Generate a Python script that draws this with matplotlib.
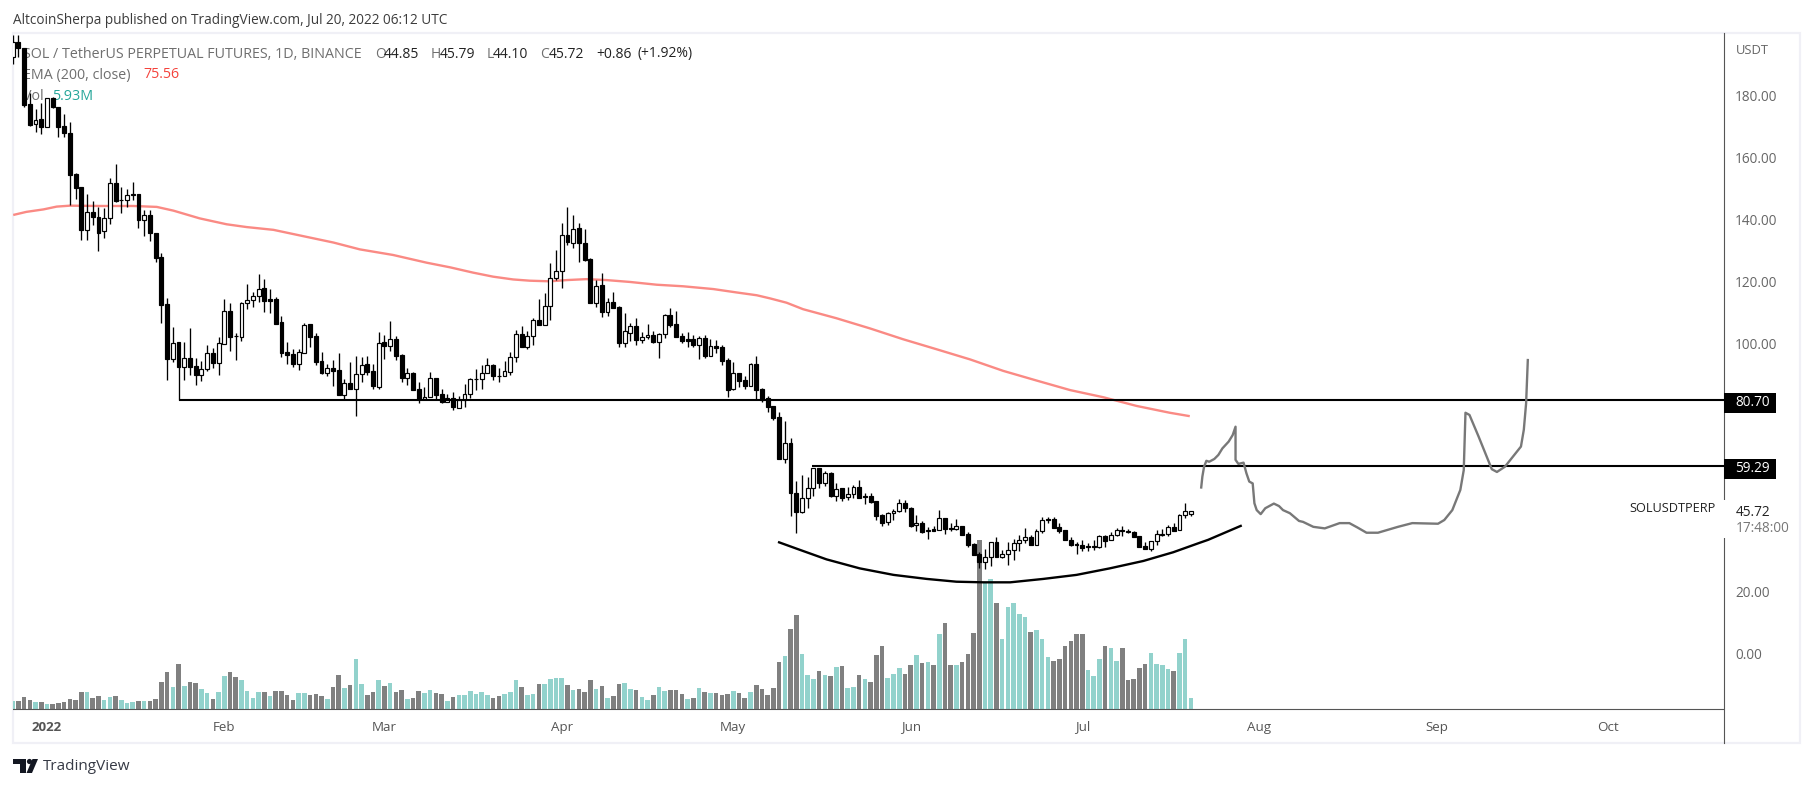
import matplotlib
matplotlib.use("Agg")
import matplotlib.pyplot as plt
from matplotlib.patches import Rectangle, Polygon, Circle
from matplotlib.transforms import Affine2D

W, H = 1813, 788
plt.rcParams['font.family'] = ['Open Sans', 'DejaVu Sans']

# daily candles, day 0 = 2022-01-01, first candle is day -6
first_day = -6
opens = [192.4, 197.2, 195.3, 177, 170.5, 172.2, 169.8, 178.9, 176, 170,
         167.6, 154.5, 150.2, 136.5, 142.2, 140.8, 136, 140.2, 151.5, 146.1,
         146, 148, 148, 139.8, 141.2, 135.4, 127.6, 112.5, 95, 100.2,
         92.4, 95.1, 92.5, 89.8, 91.7, 96.7, 93.7, 99.8, 110.2, 102.3,
         102, 112.8, 114, 115.3, 117.6, 114.1, 114.1, 106.7, 97, 96.4,
         93.2, 96.9, 106, 102.3, 94.2, 90.4, 91.9, 91.2, 83.3, 87,
         85.1, 89.9, 93.1, 90.9, 85.9, 100.2, 99.1, 101.2, 96.1, 88.8,
         90.3, 85.1, 81.8, 82.7, 88.6, 83.5, 81.1, 82.2, 79.1, 81.6,
         83.5, 88.4, 88.3, 90.2, 92.9, 89.3, 89.2, 90.8, 95.4, 102.9,
         98.8, 102.2, 107.3, 105.9, 111.8, 121.1, 123.1, 134.7, 132.4, 137,
         132.2, 127, 113, 118.6, 110.1, 113.1, 111.5, 100.1, 103.3, 105.5,
         101.1, 101.8, 102.5, 100.4, 102.8, 108.9, 106, 102.3, 101.3, 101.3,
         99.5, 101.5, 95.9, 99, 98.6, 94.4, 85.1, 90.3, 88, 86.2,
         93.2, 85.1, 82.2, 79.7, 76, 62.7, 67.6, 51.7, 45.6, 49.9,
         53.3, 59.6, 54.7, 58, 50.8, 53.1, 50.2, 51.2, 53.5, 50.6,
         50.6, 48.9, 44.5, 42.2, 45.3, 45.9, 48.3, 46.7, 41.2, 41.9,
         39.2, 39.9, 39.6, 43.6, 40.2, 39.9, 41, 38.4, 35.1, 31.9,
         29.5, 30.9, 35.7, 31.1, 31.8, 33.1, 35.4, 36.4, 37.3, 35,
         39.3, 43.2, 43.2, 40.6, 39.6, 36.4, 35.2, 34.8, 34.5, 34.6,
         34.3, 37.8, 36.3, 38, 39.6, 39.4, 39, 37.7, 34.4, 33.7,
         36, 38.2, 38.3, 40.6, 39.6, 44.4, 44.85]
closes = [197.2, 195.3, 176.8, 170.4, 172, 169.8, 178.9, 176, 169.8, 167.6,
          154.3, 150.1, 136.5, 142.2, 140.8, 135.6, 140.2, 151.5, 145.8, 146,
          147.6, 147.6, 139.7, 141.2, 135.4, 127.4, 112.3, 95, 100.1, 92.4,
          95.1, 92.4, 89.8, 91.7, 96.7, 93.7, 99.9, 110.2, 102, 102.2,
          112.8, 114, 115.3, 117.5, 113.7, 113.7, 106.1, 96.9, 96.1, 93.2,
          97, 105.7, 102, 94, 90.4, 91.8, 91.1, 83.2, 87, 85.1,
          89.9, 93, 90.8, 86.2, 100.1, 99.1, 101.2, 95.8, 88.7, 90.2,
          84.9, 81.8, 82.7, 88.6, 83.2, 81.1, 82.2, 79.3, 81.6, 83.5,
          88.3, 88.3, 90.2, 92.8, 89.2, 89.2, 90.9, 95.4, 102.8, 98.8,
          102.2, 107.3, 105.9, 111.8, 121.1, 123.1, 134.7, 132.7, 136.9, 132.2,
          126.8, 113, 118.5, 110.1, 113.1, 111.4, 100.1, 103.8, 105.5, 101,
          101.8, 102.5, 100.3, 102.8, 108.9, 105.9, 102, 100.8, 100.8, 99.5,
          101.5, 95.8, 99, 98.5, 94.2, 84.8, 90.2, 87.9, 86.2, 93.1,
          84.8, 81.6, 79.5, 75.9, 62.6, 67.6, 51.7, 45.6, 49.9, 53.3,
          59.6, 54.7, 58, 50.8, 53, 50.1, 51.2, 53.5, 50.1, 50.2,
          48.8, 44.3, 41.9, 45.3, 45.9, 48.3, 46.7, 41.1, 41.8, 39,
          39.8, 39.5, 43.5, 40.1, 39.9, 40.9, 38.2, 34.9, 31.7, 29.5,
          30.9, 35.7, 31.1, 31.8, 33.1, 35.4, 36.4, 37.3, 35, 39.3,
          42.8, 42.9, 40.4, 39.4, 36.3, 35, 34.8, 34, 34.2, 34.3,
          37.6, 36.1, 38, 39.6, 39.3, 38.9, 37.5, 34.2, 33.7, 36,
          38.3, 38.3, 40.6, 39.5, 44.4, 45.7, 45.72]
highs = [199.4, 199.4, 195.3, 180.5, 175.5, 177.3, 178.9, 179.2, 176, 173.9,
         171.3, 154.7, 150.4, 148, 145.8, 144, 143.5, 153.1, 157.8, 150.4,
         149.7, 152, 148.2, 142.9, 142.9, 135.4, 128.9, 114.4, 105.1, 100.2,
         100.2, 104.7, 95.1, 94.2, 99.4, 98.3, 101.8, 114.1, 112.8, 103.3,
         113.1, 119, 116.3, 122.2, 120.5, 117.3, 115, 108.7, 100.2, 98.1,
         98.1, 106.4, 106, 103.1, 97.1, 93.2, 94.5, 96.8, 88.3, 93.9,
         95.7, 95.4, 95.8, 93.1, 103.6, 102.6, 107.1, 102.3, 96.5, 91.9,
         90.7, 87.4, 85.8, 90.7, 88.6, 85.1, 83.6, 84.2, 82.9, 86.8,
         88.6, 91.5, 92.8, 95.1, 93.2, 91.8, 94.3, 97, 104.2, 105.5,
         103.9, 108.1, 114.2, 116.1, 125.7, 130, 138.6, 143.8, 141.2, 138.6,
         136.7, 127.5, 120.3, 122.5, 114.4, 116.5, 112, 109.6, 106.6, 108,
         103.6, 106.1, 104, 103.1, 109.4, 111.3, 110.2, 103.3, 103.7, 102.6,
         102.3, 102.5, 101.3, 101, 99.4, 95.1, 93.9, 90.3, 89.2, 93.7,
         95.8, 85.4, 82.9, 79.7, 77.9, 75, 69.3, 55.5, 57.4, 56.7,
         59.6, 59.6, 58.8, 58.5, 55, 53.1, 53.5, 54.2, 55.8, 51.7,
         51.5, 48.9, 45, 45.6, 46.4, 49.7, 49.4, 47, 44.5, 42.6,
         40.8, 41, 46.1, 43.6, 41.8, 43.2, 41, 39, 35.4, 32.7,
         33.6, 35.9, 37.4, 33.2, 35.7, 36.7, 38.1, 40.3, 38, 39.9,
         43.8, 44, 43.8, 42, 39.6, 37.4, 35.9, 36.5, 35.6, 36.3,
         38.1, 38.1, 39.1, 40.3, 41, 39.9, 39.4, 37.7, 35.7, 36,
         39.7, 39.9, 41.3, 41.8, 45, 48.3, 45.79]
lows = [190, 192.4, 176.2, 170, 168, 167.4, 169.8, 175.7, 166.6, 166.6,
        144.5, 146.6, 133.3, 133.3, 138.1, 129.8, 133.9, 138.4, 145.5, 142,
        144, 146.1, 137.1, 134.5, 133, 126.2, 106.6, 88.1, 94, 81.6,
        88.1, 89.7, 86.5, 87.9, 91.1, 92, 89.7, 99.8, 97.5, 94.5,
        100.8, 110.9, 111.7, 113.3, 110.1, 109.8, 106.1, 95.6, 93.2, 92.2,
        91.3, 96.9, 98.6, 92.9, 90, 89.4, 86.1, 83.2, 81.6, 85.1,
        76.3, 87.5, 89.8, 85.1, 85.1, 94.8, 97.4, 94.5, 87.5, 86.6,
        84.9, 80.8, 81.8, 82.7, 81.6, 80.8, 81.1, 78.4, 78.9, 79.5,
        82.4, 84.9, 85.2, 90.2, 88.1, 87.5, 89.2, 89.7, 93.9, 98.6,
        98.2, 99.4, 105.9, 105.9, 107.4, 120.3, 117.9, 131.7, 130.8, 126.2,
        126.6, 113, 111.5, 108.5, 108.7, 111.2, 98.8, 98.8, 100.8, 99.4,
        99.9, 101.3, 100.1, 95.3, 101.5, 105.3, 102, 99.9, 98.8, 98.8,
        95, 95.3, 95.9, 96.7, 93, 82.7, 84.8, 85.9, 85.2, 86.2,
        81.6, 80.9, 77.9, 75.2, 62.6, 61.2, 44.3, 38.6, 45.1, 46.9,
        50.6, 53.1, 53.9, 50.4, 49.1, 49, 49.4, 49.9, 49.9, 48.1,
        48.3, 42.9, 41, 41.3, 42.9, 45.6, 45.6, 40.5, 39.5, 38.8,
        36.9, 39.2, 39.6, 38.4, 39.5, 39.7, 38.2, 34.3, 31.7, 27.5,
        27.2, 28.2, 31.1, 30.6, 28.4, 30, 33, 35.6, 35, 35,
        38.8, 42, 40.4, 38.8, 36.3, 34.5, 32, 33, 33, 33.2,
        33.8, 34.3, 36.3, 37.8, 37.8, 38.6, 37.3, 34.2, 33.7, 33,
        34.9, 37.8, 37.8, 39.5, 39.6, 43.7, 44.1]

# volume in millions
volumes = [4.4, 4.4, 6.5, 4.9, 3.8, 3.8, 2.8, 2.8, 3.3, 3.8,
           5.4, 4.9, 9.1, 9.1, 5.9, 7, 4.9, 6.5, 7, 4.9,
           3.3, 3.8, 4.4, 4.4, 4.4, 5.4, 14.3, 19.5, 11.7, 23.7,
           12.2, 14.3, 13.8, 10.6, 8.5, 5.4, 9.1, 17.4, 19.5, 16.9,
           15.3, 9.6, 5.9, 9.1, 9.1, 7, 9.6, 9.6, 7.5, 4.9,
           8.5, 8.5, 7.5, 8, 7, 5.4, 11.7, 18, 11.2, 12.7,
           26.3, 13.3, 7.5, 9.1, 15.3, 12.2, 13.8, 9.1, 10.1, 5.4,
           5.9, 9.6, 8.5, 10.1, 8.5, 8, 4.4, 6.5, 7.5, 7.5,
           9.6, 8, 9.1, 7.5, 5.9, 7, 8, 9.1, 15.3, 11.7,
           7.5, 8, 13.3, 13.3, 15.9, 16.4, 16.4, 12.7, 10.1, 10.6,
           9.1, 15.3, 10.6, 12.2, 5.9, 7, 13.3, 13.8, 10.6, 10.1,
           6.5, 4.9, 7.5, 11.7, 9.6, 10.1, 10.1, 8, 5.4, 5.9,
           11.2, 9.1, 8.5, 8.5, 7.5, 8, 9.6, 8.5, 5.9, 9.1,
           12.7, 10.6, 7.5, 11.2, 24.8, 27.9, 42, 49.4, 29, 18,
           15.9, 20.1, 18, 17.4, 22.1, 22.7, 11.2, 11.7, 18, 15.9,
           14.3, 28.4, 33.1, 16.4, 18.5, 21.6, 18.5, 23.2, 28.4, 24.2,
           24.8, 23.2, 39.4, 45.2, 23.2, 23.2, 24.8, 29, 39.9, 88.4,
           66.6, 68.2, 55.6, 36.8, 53.5, 55.6, 49.9, 48.3, 40.5, 41.5,
           36.8, 27.4, 25.3, 26.3, 33.1, 35.8, 39.4, 39.4, 20.6, 17.4,
           26.3, 33.1, 32.1, 25.3, 32.1, 15.3, 15.9, 21.6, 23.7, 29.5,
           23.7, 23.2, 21.1, 20.1, 29.5, 36.8, 5.93]
# t = teal day, g = grey day
vol_up = ("tgggtgtggg"
          "gggtggttgt"
          "ttgtggggtg"
          "tggttgttgg"
          "ttttgtgggg"
          "ttgggtggtg"
          "ttggtgtggt"
          "ggttggtgtt"
          "ttttggtttg"
          "ttgttttgtg"
          "ggtgtggttg"
          "ttgttgggtg"
          "tgtgggtggt"
          "gggggtggtt"
          "tgtgtgttgt"
          "gggtttggtg"
          "tgtggtgggg"
          "ttgtttttgt"
          "ttggggggtt"
          "tgttgggggt"
          "tttgttt")

# 200 day EMA
ema_days = [-5.9, -3.6, -0.6, 1.7, 4, 9.3, 15.1, 19.2, 22.1, 26.7, 31.4, 34.9, 39.6, 44.2,
            50.1, 54.7, 60.5, 66.4, 70.5, 74.5, 78, 81.5, 84.4, 87.9, 90.9, 94.3, 97.8,
            101.9, 106.6, 111.2, 116.5, 120.6, 124.1, 126.4, 129.3, 132.2, 138, 143.9,
            149.7, 155.5, 161.4, 167.2, 173, 178.9, 184.7, 190.5, 196.3, 199.8]
ema_vals = [141.3, 142.3, 143.1, 144, 144.3, 144.2, 144.2, 143.9, 142.7, 140.2, 138.3, 137.4,
            136.5, 134.7, 132.4, 130.2, 128.4, 125.9, 124.4, 122.7, 121.4, 120.5, 120.1,
            119.9, 120.3, 120.6, 120.3, 119.7, 118.8, 118.3, 117.4, 116.3, 115.4, 114.4,
            113, 110.9, 108, 104.7, 101.2, 98, 94.7, 91, 87.9, 84.8, 82.5, 79.7, 77.5, 76.4]

# horizontal levels and hand drawn stuff
level_high = 81.6
level_high_start = 23
level_low = 60.3
level_low_start = 133.8
arc_days = [128, 131.6, 136.3, 142.1, 148, 153.8, 159, 163.7, 168.4, 174.2, 180, 185.8,
            191.7, 196.9, 201.6, 203, 208.7]
arc_vals = [35.7, 33.3, 30.2, 27.3, 25.2, 23.9, 23, 22.8, 22.8, 23.9, 25.2, 27.3,
            29.7, 32.5, 35.6, 36.5, 41]
path_days = [201.8, 202, 202.3, 202.7, 203.2, 204.1, 204.8, 205.5, 206.6, 207.3, 207.8, 207.8,
             208.3, 209.2, 209.7, 210.2, 210.8, 211.1, 211.5, 212.2, 213, 214.5, 215.4, 216.1,
             217.3, 218.9, 219.6, 221.4, 223.4, 226, 227.7, 229.1, 230.7, 232.7, 236.2, 238.7,
             243.2, 244.3, 245.7, 247.1, 247.7, 248, 248.7, 250.3, 252.6, 253.5, 254.9, 257.7,
             258.2, 258.6, 258.9]
path_vals = [53.4, 56.9, 60.1, 62, 61.7, 62.6, 63.9, 66, 68.2, 70.3, 73, 62.3,
             61, 61.4, 58, 55.3, 54.7, 48.3, 46.1, 44.8, 46.7, 48.2, 47.4, 46.1,
             45.1, 42.6, 42.3, 40.7, 40.2, 41.9, 41.9, 40.5, 38.8, 38.8, 40.7, 41.9,
             41.7, 42.9, 46.1, 52.6, 59, 77.5, 76.8, 69.8, 59.3, 58.4, 60.1, 66.6,
             72, 80.5, 94.5]

price_ticks = [180, 160, 140, 120, 100, 20, 0]
month_days = [0, 31, 59, 90, 120, 151, 181, 212, 243, 273]
month_labels = ["2022", "Feb", "Mar", "Apr", "May", "Jun", "Jul", "Aug", "Sep", "Oct"]

days = list(range(first_day, first_day + len(opens)))
tops = [max(o, c) for o, c in zip(opens, closes)]
bots = [min(o, c) for o, c in zip(opens, closes)]
body_colors = ["white" if c > o else "black" for o, c in zip(opens, closes)]
vol_colors = ["#92d2cc" if v == "t" else "#808080" for v in vol_up]

fig = plt.figure(figsize=(W / 100, H / 100), dpi=100, facecolor="white")
px = Affine2D().scale(1, -1).translate(0, H)  # pixel coords with y going down

left, right, top, bottom = 13, 1724, 33, 743
rect = [left / W, 1 - bottom / H, (right - left) / W, (bottom - top) / H]

# volume pane lives under the candles
ax_vol = fig.add_axes(rect, zorder=2)
ax_vol.patch.set_visible(False)
ax_vol.axis("off")
ax_vol.bar(days, volumes, width=0.8, color=vol_colors, linewidth=0)
ax_vol.axhline(0, color="#555555", lw=0.8)
ax_vol.set_xlim(-5.94, 293.2)
ax_vol.set_ylim(-17.8, 353.8)

ax = fig.add_axes(rect, zorder=3)
ax.patch.set_visible(False)
ax.set_xlim(-5.94, 293.2)
ax.set_ylim(-29.03, 200)

ax.plot(ema_days, ema_vals, color="#fa8a84", lw=1.7, solid_capstyle="butt", zorder=2)
ax.vlines(days, lows, highs, color="black", lw=0.95, zorder=3)
ax.bar(days, [t - b for t, b in zip(tops, bots)], bottom=bots, width=0.68,
       color=body_colors, edgecolor="black", linewidth=0.85, zorder=4)
ax.hlines(level_high, level_high_start, 293.2, color="black", lw=1.5, zorder=5)
ax.hlines(level_low, level_low_start, 293.2, color="black", lw=1.5, zorder=5)
ax.plot(arc_days, arc_vals, color="black", lw=1.7, zorder=5)
ax.plot(path_days, path_vals, color="#787878", lw=1.7, zorder=5)

for s in ["left", "top", "bottom"]:
    ax.spines[s].set_visible(False)
ax.spines["right"].set_color("#555555")
ax.spines["right"].set_linewidth(0.8)
ax.yaxis.tick_right()
ax.set_yticks(price_ticks)
ax.set_yticklabels([f"{p:.2f}" for p in price_ticks], fontsize=9.8, color="#666666")
ax.tick_params(axis="y", length=0, pad=8)
ax.set_xticks([])
for d, lab in zip(month_days, month_labels):
    ax.text(d, 0.0225, lab, transform=ax.get_xaxis_transform(), ha="center", va="center",
            fontsize=9.6, color="#555555", fontweight="bold" if lab == "2022" else "normal")

# outer frame
fig.add_artist(Rectangle((13, 33), 1787, 710, transform=px, fill=False, ec="#f0f0f6", lw=1.6, zorder=1))

legend_grey = "#6f6f6f"
value_dark = "#222222"


def label(x, y, s, color=legend_grey, size=10.3, ha="left", z=1, **kw):
    fig.text(x, y, s, transform=px, color=color, fontsize=size, ha=ha, va="center", zorder=z, **kw)


label(13, 20, "AltcoinSherpa published on TradingView.com, Jul 20, 2022 06:12 UTC", color="#3c3c3c", size=9.8, z=6)
label(23, 54, "SOL / TetherUS PERPETUAL FUTURES, 1D, BINANCE")
for x, s, c in [(375, "O", legend_grey), (384, "44.85", value_dark), (431, "H", legend_grey),
                (440, "45.79", value_dark), (487, "L", legend_grey), (493, "44.10", value_dark),
                (540, "C", legend_grey), (549, "45.72", value_dark), (596, "+0.86", value_dark),
                (637, "(+1.92%)", value_dark)]:
    label(x, 54, s, color=c, size=10)
label(23, 75, "EMA (200, close)")
label(143, 75, "75.56", color="#f4433c")
label(23, 96, "Vol")
label(52, 96, "5.93M", color="#26a69a")

label(1736, 50, "USDT", color="#666666", size=9.4, z=6)

# price badges on the axis
for y, s in [(403, "80.70"), (469, "59.29")]:
    fig.add_artist(Rectangle((1724, y - 10), 52, 20, transform=px, fc="black", ec="none", zorder=6))
    label(1735, y, s, color="white", size=9.8, z=7)

fig.add_artist(Rectangle((1722, 500), 4, 38, transform=px, fc="white", ec="none", zorder=6))
label(1629, 509, "SOLUSDTPERP", color="#222222", size=9.2, z=7)
label(1736, 513, "45.72", color="#222222", size=9.8, z=7)
label(1736, 528, "17:48:00", color="#777777", size=9.8, z=7)

# logo
logo = "#131722"
fig.add_artist(Polygon([(13, 759), (26, 759), (26, 773), (20, 773), (20, 764), (13, 764)],
                       transform=px, fc=logo, ec="none", zorder=6))
fig.add_artist(Circle((29.5, 761.5), 2.6, transform=px, fc=logo, ec="none", zorder=6))
fig.add_artist(Polygon([(32.5, 759), (38, 759), (32, 773), (26.5, 773)],
                       transform=px, fc=logo, ec="none", zorder=6))
label(43, 767, "TradingView", color="#363a45", size=11, z=6)

fig.savefig("out.png", dpi=100)
